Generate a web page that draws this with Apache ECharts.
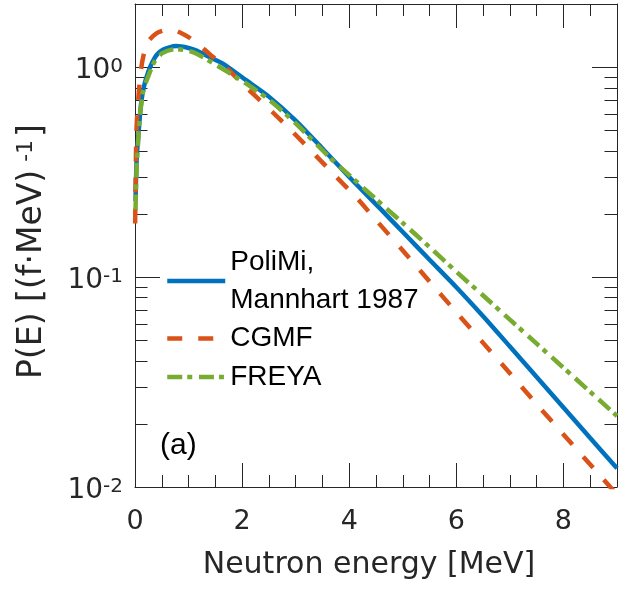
<!DOCTYPE html>
<html>
<head>
<meta charset="utf-8">
<script src="https://cdn.jsdelivr.net/npm/echarts@6/dist/echarts.min.js"></script>
<style>
html,body{margin:0;padding:0;background:#ffffff;}
#chart{width:627px;height:593px;}
</style>
</head>
<body>
<div id="chart"></div>
<script>
// ---- data ----
const energyPoliMi = [0.01,0.03,0.056,0.12,0.21,0.37,0.52,0.77,1.0,1.15,1.4,1.64,2.08,2.5,3.0,3.5,4.0,4.57,5.0,5.5,6.0,6.5,7.0,7.5,8.0,8.5,9.0];
const valuesPoliMi = [0.23,0.36,0.45,0.69,0.89,1.11,1.21,1.26,1.235,1.20,1.114,1.04,0.865,0.724,0.557,0.41,0.30,0.213,0.164,0.121,0.0895,0.0651,0.0467,0.0334,0.0239,0.0171,0.0123];

const energyCGMF = [0.003,0.01,0.026,0.056,0.11,0.18,0.26,0.4,0.55,0.7,0.85,1.0,1.2,1.4,1.64,2.08,2.57,2.95,3.38,3.76,4.13,4.5,5.0,5.5,6.0,6.5,7.0,7.5,8.0,8.5,9.0];
const valuesCGMF = [0.18,0.26,0.49,0.68,0.965,1.2,1.34,1.45,1.50,1.505,1.46,1.39,1.275,1.15,1.03,0.80,0.61,0.49,0.378,0.30,0.24,0.187,0.134,0.0953,0.068,0.0486,0.0348,0.0248,0.0178,0.0128,0.0092];

const energyFREYA = [0.01,0.03,0.056,0.09,0.15,0.21,0.37,0.52,0.77,1.0,1.15,1.5,2.0,2.5,3.0,3.63,4.0,4.5,5.0,5.5,6.0,6.5,7.0,7.5,8.0,8.5,9.0];
const valuesFREYA = [0.21,0.33,0.43,0.58,0.76,0.855,1.07,1.17,1.22,1.195,1.16,1.03,0.86,0.70,0.54,0.3726,0.306,0.235,0.181,0.139,0.106,0.0817,0.0627,0.0482,0.0370,0.0284,0.0218];

const seriesNames = ['PoliMi,\nMannhart 1987','CGMF','FREYA'];
const xTickLabels = [0,2,4,6,8];
const yMajorTicks = [0.01,0.1,1];
const yMinorTicks = [0.02,0.03,0.04,0.05,0.06,0.07,0.08,0.09,0.2,0.3,0.4,0.5,0.6,0.7,0.8,0.9];
const xRange = [0,9];
const yRange = [0.01,2];

function zip(xs, ys){ return xs.map((x,i)=>[x, ys[i]]); }

const AX = '#262626';
const TICKFONT = 'DejaVu Sans';

function yLabel(v){
  const e = Math.log10(v);
  const r = Math.round(e);
  if (Math.abs(e - r) < 1e-6 && yMajorTicks.some(t => Math.abs(t - v) < 1e-9)) {
    return '{b|10}{s|' + r + '}';
  }
  return '';
}

const xAxisBase = {
  type:'value', min:xRange[0], max:xRange[1], interval:2,
  axisLine:{show:true, onZero:false, lineStyle:{color:AX, width:1}},
  axisTick:{show:true, inside:true, length:24, lineStyle:{color:AX, width:1}},
  minorTick:{show:true, splitNumber:4, length:12, lineStyle:{color:AX, width:1}},
  splitLine:{show:false}, minorSplitLine:{show:false}
};
const yAxisBase = {
  type:'log', logBase:10, min:yRange[0], max:yRange[1],
  axisLine:{show:true, onZero:false, lineStyle:{color:AX, width:1}},
  axisTick:{show:true, inside:true, length:25, lineStyle:{color:AX, width:1}},
  minorTick:{show:false},
  splitLine:{show:false}, minorSplitLine:{show:false}
};

const legendCommon = {
  orient:'vertical', left:165, padding:0,
  itemWidth:58, itemHeight:10,
  textStyle:{fontSize:28, lineHeight:38, fontFamily:'Liberation Sans', color:'#000'},
  lineStyle:{width:4.5},
  itemStyle:{opacity:0, borderWidth:0}
};

const option = {
  animation:false,
  backgroundColor:'#ffffff',
  grid:{left:135, right:10, top:4, bottom:106, containLabel:false, outerBoundsMode:'none'},
  xAxis:[
    Object.assign({}, xAxisBase, {
      position:'bottom',
      axisLabel:{show:true, margin:21, fontSize:27, fontFamily:TICKFONT, color:AX,
        formatter:v => xTickLabels.includes(v) ? String(v) : ''},
      name:'Neutron energy [MeV]', nameLocation:'middle', nameGap:63,
      nameTextStyle:{fontSize:30, fontFamily:TICKFONT, color:AX, padding:[0,14,0,0]}
    }),
    Object.assign({}, xAxisBase, {position:'top', axisLabel:{show:false}})
  ],
  yAxis:[
    Object.assign({}, yAxisBase, {
      position:'left',
      axisLabel:{show:true, margin:12, color:AX, fontFamily:TICKFONT, padding:[8,0,0,0],
        formatter:yLabel,
        rich:{
          b:{fontSize:28, lineHeight:28, fontFamily:TICKFONT, color:AX, verticalAlign:'bottom'},
          s:{fontSize:20, lineHeight:20, fontFamily:TICKFONT, color:AX, verticalAlign:'top', padding:[0,0,17,0]}
        }},
      name:'{t|P(E) [(f·MeV)}{s|-1}{t|]}', nameLocation:'middle', nameGap:73, nameRotate:90,
      nameTextStyle:{fontFamily:TICKFONT, color:AX, padding:[0,12,0,0],
        rich:{
          t:{fontSize:33, lineHeight:33, fontFamily:TICKFONT, color:AX, verticalAlign:'bottom'},
          s:{fontSize:22, lineHeight:22, fontFamily:TICKFONT, color:AX, verticalAlign:'top', padding:[0,3,19,8]}
        }}
    }),
    Object.assign({}, yAxisBase, {position:'right', axisLabel:{show:false}})
  ],
  legend:[
    Object.assign({}, legendCommon, {data:[seriesNames[0]], top:243, itemGap:0}),
    Object.assign({}, legendCommon, {data:[seriesNames[1], seriesNames[2]], top:319.5, itemGap:0.5})
  ],
  graphic:[
    {type:'text', left:160, top:431, style:{text:'(a)', font:'30px "Liberation Sans"', fill:'#000'}}
  ],
  series:[
    {
      type:'custom', name:'minorTicks', silent:true, clip:false, z:1,
      xAxisIndex:0, yAxisIndex:0,
      data: yMinorTicks.map(v => [xRange[0], v]),
      encode:{x:0, y:1},
      renderItem:(params, api) => {
        const v = api.value(1);
        const L = api.coord([xRange[0], v]);
        const R = api.coord([xRange[1], v]);
        const y = Math.round(L[1]) + 0.5;
        return {type:'group', children:[
          {type:'line', shape:{x1:L[0], y1:y, x2:L[0]+12.5, y2:y}, style:{stroke:AX, lineWidth:1}},
          {type:'line', shape:{x1:R[0]-12.5, y1:y, x2:R[0], y2:y}, style:{stroke:AX, lineWidth:1}}
        ]};
      }
    },
    {
      type:'line', name:seriesNames[0], data:zip(energyPoliMi, valuesPoliMi),
      xAxisIndex:0, yAxisIndex:0, showSymbol:false, symbol:'none', smooth:0.25,
      lineStyle:{color:'#0072BD', width:4.5, type:'solid', cap:'butt'}, itemStyle:{color:'#0072BD'}, z:2
    },
    {
      type:'line', name:seriesNames[1], data:zip(energyCGMF, valuesCGMF),
      xAxisIndex:0, yAxisIndex:0, showSymbol:false, symbol:'none', smooth:0.25,
      lineStyle:{color:'#D95319', width:4.5, type:[15,16], cap:'butt'}, itemStyle:{color:'#D95319'}, z:3
    },
    {
      type:'line', name:seriesNames[2], data:zip(energyFREYA, valuesFREYA),
      xAxisIndex:0, yAxisIndex:0, showSymbol:false, symbol:'none', smooth:0.25,
      lineStyle:{color:'#77AC30', width:4.5, type:[15,5,5,6.7], cap:'butt'}, itemStyle:{color:'#77AC30'}, z:4
    }
  ]
};

const chart = echarts.init(document.getElementById('chart'), null, {renderer:'canvas'});
chart.setOption(option);
</script>
</body>
</html>
